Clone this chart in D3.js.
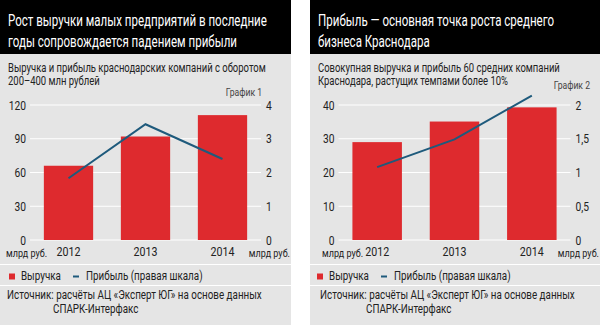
<!DOCTYPE html>
<html><head><meta charset="utf-8">
<script src="https://cdn.jsdelivr.net/npm/d3@7"></script>
<style>
html,body{margin:0;padding:0;background:#fff;}
svg{display:block;}
svg text{font-family:Roboto,"Liberation Sans",sans-serif;}
</style></head>
<body>
<svg id="c" width="600" height="325"></svg>
<script>
// ---- data ----
const years = ["2012", "2013", "2014"];
const revenue1 = [66, 92, 111];
const profit1 = [1.83, 3.43, 2.4];
const revenue2 = [29, 35.1, 39.3];
const profit2 = [1.08, 1.49, 2.14];
const leftTicks1 = [0, 30, 60, 90, 120];
const rightTicks1 = [0, 1, 2, 3, 4];
const leftTicks2 = [0, 10, 20, 30, 40];
const rightTicks2 = [0, 0.5, 1, 1.5, 2];
const titles1 = ["Рост выручки малых предприятий в последние", "годы сопровождается падением прибыли"];
const titles2 = ["Прибыль — основная точка роста среднего", "бизнеса Краснодара"];
const subs1 = ["Выручка и прибыль краснодарских компаний с оборотом", "200–400 млн рублей"];
const subs2 = ["Совокупная выручка и прибыль 60 средних компаний", "Краснодара, растущих темпами более 10%"];
const chartLabels = ["График 1", "График 2"];
const unitLabel = "млрд руб.";
const legendLabels = ["Выручка", "Прибыль (правая шкала)"];
const sourceLines = ["Источник: расчёты АЦ «Эксперт ЮГ» на основе данных", "СПАРК-Интерфакс"];

const RED = "#de2a2e", BLUE = "#1e5a7c", GRAY = "#e5e5e5", TXT = "#222";
const SX = 0.82, SX_TITLE = 0.70, SX_SUB = 0.79; // horizontal condensing of the typeface
const svg = d3.select("#c");
const fmt = d => String(d).replace(".", ",");

function panel(cfg) {
  const g = svg.append("g").attr("transform", `translate(${cfg.x0},0)`);
  const W = cfg.w;
  g.append("rect").attr("width", W).attr("height", 325).attr("fill", GRAY);
  g.append("rect").attr("width", W).attr("height", 54).attr("fill", "#000");
  cfg.titles.forEach((t, i) => g.append("text").attr("x", 8).attr("y", 26 + i * 21)
    .attr("data-sx", SX_TITLE).attr("fill", "#fff").attr("font-size", 16.5).text(t));
  cfg.subs.forEach((t, i) => g.append("text").attr("x", 8).attr("y", 72 + i * 13.5)
    .attr("data-sx", SX_SUB).attr("fill", TXT).attr("font-size", 12).text(t));
  g.append("text").attr("x", cfg.labelX).attr("y", cfg.labelY).attr("text-anchor", "end")
    .attr("fill", "#444").attr("font-size", 10.5).text(cfg.label);

  const x = d3.scaleBand().domain(years).range([cfg.pl, cfg.pr]).paddingInner(0.36).paddingOuter(0.18);
  const yL = d3.scaleLinear().domain([0, d3.max(cfg.lt)]).range([240, 105]);
  const yR = d3.scaleLinear().domain([0, d3.max(cfg.rt)]).range([240, 105]);

  // gridlines
  g.append("g").selectAll("line").data(cfg.lt).join("line")
    .attr("x1", cfg.pl).attr("x2", cfg.pr).attr("y1", d => yL(d)).attr("y2", d => yL(d))
    .attr("stroke", "#fff").attr("stroke-width", 1.2);

  // axes labels
  const axL = g.append("g").attr("transform", `translate(${cfg.pl - 4},0)`)
    .call(d3.axisLeft(yL).tickValues(cfg.lt).tickSize(0).tickPadding(0));
  const axR = g.append("g").attr("transform", `translate(${cfg.pr + 5},0)`)
    .call(d3.axisRight(yR).tickValues(cfg.rt).tickSize(0).tickPadding(0).tickFormat(fmt));
  [axL, axR].forEach(a => {
    a.select(".domain").remove();
    a.selectAll("text").attr("font-size", 12.5).attr("fill", TXT).attr("font-family", null);
  });

  // bars
  g.append("g").selectAll("rect").data(years).join("rect")
    .attr("x", d => x(d)).attr("width", x.bandwidth())
    .attr("y", (d, i) => yL(cfg.rev[i])).attr("height", (d, i) => 240 - yL(cfg.rev[i]))
    .attr("fill", RED);

  // line
  const line = d3.line().x((d, i) => x(years[i]) + x.bandwidth() / 2).y(d => yR(d));
  g.append("path").datum(cfg.prof).attr("d", line).attr("fill", "none")
    .attr("stroke", BLUE).attr("stroke-width", 2);

  // x axis labels
  const axB = g.append("g").attr("transform", "translate(0,247)")
    .call(d3.axisBottom(x).tickSize(0).tickPadding(0));
  axB.select(".domain").remove();
  axB.selectAll("text").attr("font-size", 13).attr("fill", TXT).attr("dy", "0.71em").attr("font-family", null);
  g.append("text").attr("x", cfg.unitL).attr("y", 257).attr("font-size", 11).attr("fill", TXT).text(unitLabel);
  g.append("text").attr("x", W - 1).attr("y", 257).attr("text-anchor", "end").attr("font-size", 11).attr("fill", TXT).text(unitLabel);

  // legend
  g.append("line").attr("x1", 0).attr("x2", W).attr("y1", 264.5).attr("y2", 264.5).attr("stroke", "#fff").attr("stroke-width", 1.2);
  g.append("line").attr("x1", 0).attr("x2", W).attr("y1", 285.5).attr("y2", 285.5).attr("stroke", "#fff").attr("stroke-width", 1.2);
  g.append("rect").attr("x", cfg.legX).attr("y", 273.5).attr("width", 6).attr("height", 6).attr("fill", RED);
  g.append("text").attr("x", cfg.legX + 12).attr("y", 280.5).attr("font-size", 12).attr("fill", TXT).text(legendLabels[0]);
  g.append("line").attr("x1", cfg.legX + 64).attr("x2", cfg.legX + 70).attr("y1", 276.5).attr("y2", 276.5).attr("stroke", BLUE).attr("stroke-width", 2);
  g.append("text").attr("x", cfg.legX + 77).attr("y", 280.5).attr("font-size", 12).attr("fill", TXT).text(legendLabels[1]);

  // source
  g.append("text").attr("x", cfg.srcX).attr("y", 299).attr("font-size", 12).attr("fill", TXT).text(sourceLines[0]);
  g.append("text").attr("x", cfg.srcX + 46).attr("y", 313).attr("font-size", 12).attr("fill", TXT).text(sourceLines[1]);
}

panel({x0: 0, w: 291, titles: titles1, subs: subs1, label: chartLabels[0], labelX: 262, labelY: 96,
  pl: 30, pr: 261, lt: leftTicks1, rt: rightTicks1, rev: revenue1, prof: profit1, unitL: 6, legX: 9, srcX: 7});
panel({x0: 310, w: 290, titles: titles2, subs: subs2, label: chartLabels[1], labelX: 280, labelY: 89,
  pl: 28.5, pr: 260.5, lt: leftTicks2, rt: rightTicks2, rev: revenue2, prof: profit2, unitL: 12, legX: 7, srcX: 10});

// condense every text horizontally around its own anchor point
svg.selectAll("text").each(function () {
  const t = d3.select(this);
  const s = +(t.attr("data-sx") || SX);
  const x0 = +(t.attr("x") || 0);
  t.attr("x", x0 / s).attr("transform", `scale(${s},1)`);
});
</script>
</body></html>
